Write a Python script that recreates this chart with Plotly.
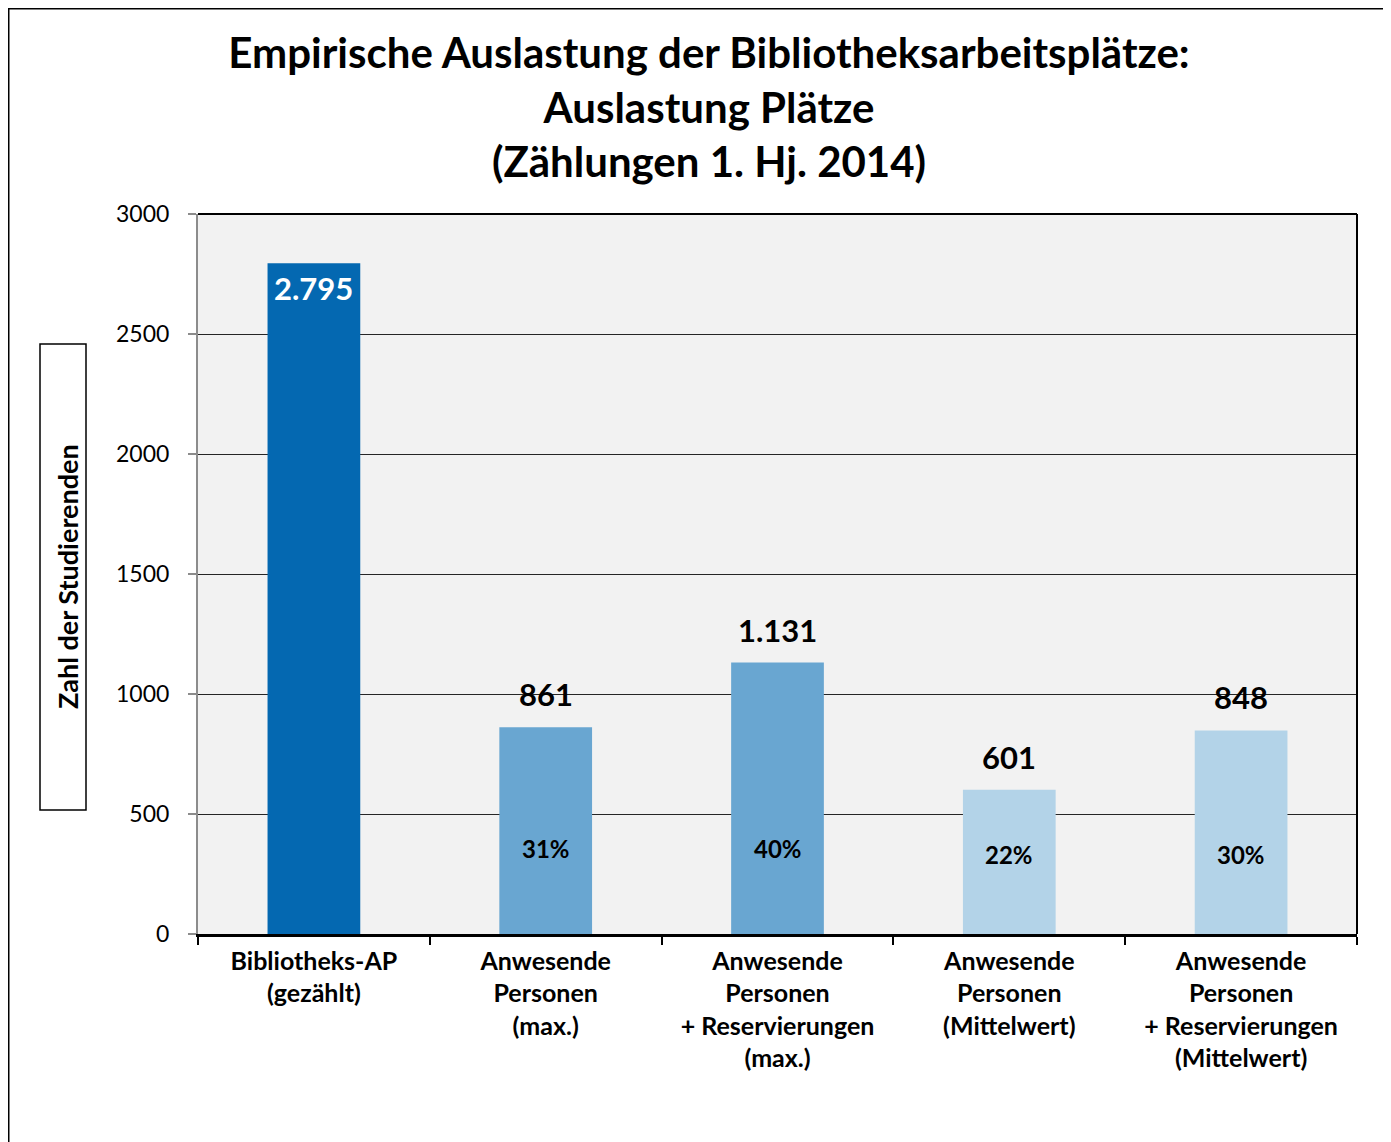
import plotly.graph_objects as go

categories = [
    "Bibliotheks-AP<br>(gezählt)",
    "Anwesende<br>Personen<br>(max.)",
    "Anwesende<br>Personen<br>+ Reservierungen<br>(max.)",
    "Anwesende<br>Personen<br>(Mittelwert)",
    "Anwesende<br>Personen<br>+ Reservierungen<br>(Mittelwert)",
]
values = [2795, 861, 1131, 601, 848]
pct_labels = ["", "31%", "40%", "22%", "30%"]
bar_colors = ["#0468B1", "#69A6D1", "#69A6D1", "#B3D3E8", "#B3D3E8"]
y_ticks = [0, 500, 1000, 1500, 2000, 2500, 3000]

FONT = "Lato"
OFF = 8  # browser body margin

def fmt(v):
    return f"{v:,}".replace(",", ".")

W0, H0 = 1391 - OFF, 1142 - OFF
L, R, T, B = 198 - OFF, 34, 214 - OFF, 208
pw = W0 - L - R
ph = H0 - T - B

def px(xp):  # page x -> paper x
    return (xp - OFF - L) / pw

def py(yp):  # page y -> paper y
    return (H0 - B - (yp - OFF)) / ph

fig = go.Figure()
fig.add_trace(go.Bar(
    x=categories, y=values, marker=dict(color=bar_colors, line=dict(width=0)),
    hoverinfo="skip",
))

annotations = []
for i, (c, v, p) in enumerate(zip(categories, values, pct_labels)):
    if i == 0:
        annotations.append(dict(x=c, y=v, xref="x", yref="y", text=fmt(v),
                                showarrow=False, yanchor="top", yshift=-4,
                                font=dict(family=FONT, size=31, color="white", weight="bold")))
    else:
        annotations.append(dict(x=c, y=v, xref="x", yref="y", text=fmt(v),
                                showarrow=False, yanchor="bottom", yshift=12,
                                font=dict(family=FONT, size=31, color="black", weight="bold")))
    if p:
        yv = 358 if i in (1, 2) else 330
        annotations.append(dict(x=c, y=yv, xref="x", yref="y", text=p,
                                showarrow=False, yanchor="middle",
                                font=dict(family=FONT, size=24, color="black", weight="bold")))

# y-axis title in a box
annotations.append(dict(
    x=px(67), y=py(577), xref="paper", yref="paper", xanchor="center", yanchor="middle",
    text="Zahl der Studierenden", textangle=-90, showarrow=False,
    font=dict(family=FONT, size=27, color="black", weight="bold"),
))

shapes = [
    dict(type="rect", xref="paper", yref="paper",
         x0=px(40), x1=px(86), y0=py(810), y1=py(344),
         line=dict(color="black", width=1.5), fillcolor="rgba(0,0,0,0)"),
    dict(type="rect", xref="paper", yref="paper",
         x0=px(8.75), x1=px(1420), y0=py(1200), y1=py(8.75),
         line=dict(color="black", width=1.5), fillcolor="rgba(0,0,0,0)", layer="below"),
    dict(type="line", xref="paper", yref="paper", x0=0, x1=1, y0=1, y1=1,
         line=dict(color="black", width=2)),
    dict(type="line", xref="paper", yref="paper", x0=1, x1=1, y0=0, y1=1,
         line=dict(color="black", width=2)),
]

fig.update_layout(
    width=W0, height=H0,
    margin=dict(l=L, r=R, t=T, b=B),
    paper_bgcolor="white", plot_bgcolor="#F2F2F2",
    showlegend=False,
    bargap=0.6,
    title=dict(
        text="Empirische Auslastung der Bibliotheksarbeitsplätze:<br>Auslastung Plätze<br>(Zählungen 1. Hj. 2014)",
        x=(709 - OFF) / W0, xanchor="center", y=1 - (68 - OFF) / H0, yanchor="middle",
        font=dict(family=FONT, size=42, color="black", weight="bold"),
    ),
    font=dict(family=FONT, color="black"),
    xaxis=dict(
        showgrid=False, showline=True, linecolor="black", linewidth=2.5,
        ticks="outside", ticklen=8, tickwidth=2, tickcolor="black",
        tickson="boundaries",
        tickfont=dict(family=FONT, size=25, color="black", weight="bold"),
        ticklabelstandoff=3,
        fixedrange=True,
    ),
    yaxis=dict(
        range=[0, 3000], tickvals=y_ticks, ticktext=[str(t) for t in y_ticks],
        showgrid=True, gridcolor="#262626", gridwidth=1,
        showline=True, linecolor="#8C8C8C", linewidth=2,
        ticks="outside", ticklen=8, tickwidth=2, tickcolor="#8C8C8C",
        tickfont=dict(family=FONT, size=23, color="black"),
        ticklabelstandoff=14,
        zeroline=False, fixedrange=True,
    ),
    annotations=annotations,
    shapes=shapes,
)

fig.write_html("out.html")
